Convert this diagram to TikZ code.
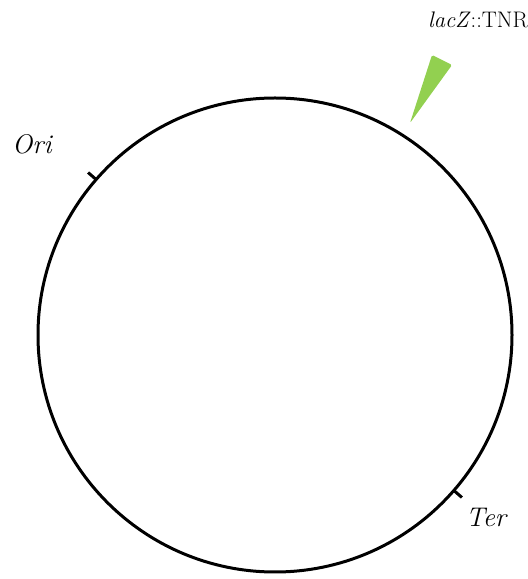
\documentclass[tikz,border=0pt]{standalone}
\usepackage{tikz}
\usetikzlibrary{positioning, calc}
\usepackage{xcolor}
\definecolor{insgreen}{RGB}{146,208,80}

\begin{document}
\begin{tikzpicture}[
    x=1pt, y=1pt,
    chrom/.style={circle, draw, line width=3pt, minimum size=474pt, inner sep=0pt, outer sep=0pt},
    marker/.style={line width=3pt},
    label/.style={font=\fontsize{22.5}{25}\selectfont, inner sep=0pt},
    siteLabel/.style={font=\fontsize{27}{30}\selectfont\itshape, inner sep=0pt}
]
\useasboundingbox (0,0) rectangle (528,579);
\node[chrom] (genome) at (275,244) {};

% origin and terminus
\draw[marker] (genome.139) -- ($(genome.center)!1.045!(genome.139)$);
\draw[marker] (genome.-41) -- ($(genome.center)!1.045!(genome.-41)$);
\node[siteLabel] (ori) at (32,435) {Ori};
\node[siteLabel] (ter) at (486,62) {Ter};

% insertion
\coordinate (tip) at (410,456);
\fill[insgreen, rounded corners=1.5pt] (tip) -- (432,524) -- (452,514) -- cycle;
\node[label] (ins) at (478,559) {\textit{lacZ}::TNR};
\end{tikzpicture}
\end{document}
